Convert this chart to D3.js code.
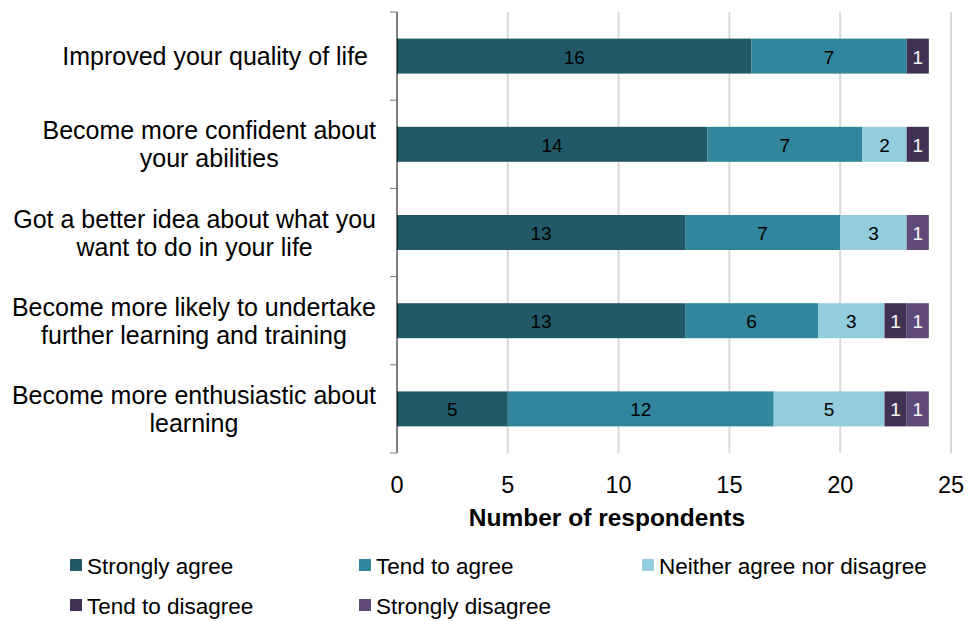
<!DOCTYPE html>
<html>
<head>
<meta charset="utf-8">
<script src="https://cdn.jsdelivr.net/npm/d3@7"></script>
<style>
  body { margin: 0; background: #fff; }
  svg text { font-family: "Liberation Sans", Arial, sans-serif; }
</style>
</head>
<body>
<svg id="chart" width="968" height="621"></svg>
<script>
// Survey statements (two-line labels split with "|")
const categories = [
  "Improved your quality of life",
  "Become more confident about|your abilities",
  "Got a better idea about what you|want to do in your life",
  "Become more likely to undertake|further learning and training",
  "Become more enthusiastic about|learning"
];
const seriesNames = ["Strongly agree", "Tend to agree", "Neither agree nor disagree", "Tend to disagree", "Strongly disagree"];
const stronglyAgree = [16, 14, 13, 13, 5];
const tendToAgree = [7, 7, 7, 6, 12];
const neither = [0, 2, 3, 3, 5];
const tendToDisagree = [1, 1, 0, 1, 1];
const stronglyDisagree = [0, 0, 1, 1, 1];
const xTicks = [0, 5, 10, 15, 20, 25];
const colors = ["#215968", "#31859c", "#93cddd", "#403152", "#604a7b"];
const labelColors = ["#000", "#000", "#000", "#fff", "#fff"];

const seriesValues = [stronglyAgree, tendToAgree, neither, tendToDisagree, stronglyDisagree];

const svg = d3.select("#chart");
const plotLeft = 397, plotRight = 951, plotTop = 12, plotBottom = 453;

const x = d3.scaleLinear().domain([0, 25]).range([plotLeft, plotRight]);
const y = d3.scaleBand().domain(d3.range(categories.length)).range([plotTop, plotBottom]).paddingInner(0).paddingOuter(0);
const barH = 35;

// vertical gridlines
svg.append("g").selectAll("line").data(xTicks.slice(1)).join("line")
  .attr("x1", d => x(d)).attr("x2", d => x(d))
  .attr("y1", plotTop).attr("y2", plotBottom)
  .attr("stroke", "#d9d9d9").attr("stroke-width", 2);

// stacked bars
const rows = categories.map((c, i) => {
  let acc = 0;
  return seriesValues.map((s, k) => {
    const seg = { row: i, k, v: s[i], x0: acc, x1: acc + s[i] };
    acc += s[i];
    return seg;
  });
});
const segs = rows.flat().filter(d => d.v > 0);

const bars = svg.append("g");
bars.selectAll("rect").data(segs).join("rect")
  .attr("x", d => x(d.x0))
  .attr("width", d => x(d.x1) - x(d.x0))
  .attr("y", d => y(d.row) + y.bandwidth() / 2 - barH / 2)
  .attr("height", barH)
  .attr("fill", d => colors[d.k]);

bars.selectAll("text").data(segs).join("text")
  .attr("x", d => (x(d.x0) + x(d.x1)) / 2)
  .attr("y", d => y(d.row) + y.bandwidth() / 2 + 7.5)
  .attr("text-anchor", "middle")
  .attr("font-size", 19)
  .attr("fill", d => labelColors[d.k])
  .text(d => d.v);

// category axis line and ticks
svg.append("line").attr("x1", plotLeft).attr("x2", plotLeft).attr("y1", plotTop).attr("y2", plotBottom)
  .attr("stroke", "#000").attr("stroke-width", 1);
svg.append("g").selectAll("line").data(d3.range(categories.length + 1)).join("line")
  .attr("x1", plotLeft - 7).attr("x2", plotLeft)
  .attr("y1", d => plotTop + d * y.step()).attr("y2", d => plotTop + d * y.step())
  .attr("stroke", "#777").attr("stroke-width", 1);

// x tick labels
svg.append("g").selectAll("text").data(xTicks).join("text")
  .attr("x", d => x(d)).attr("y", 493)
  .attr("text-anchor", "middle").attr("font-size", 23.5).attr("fill", "#000")
  .text(d => d);

svg.append("text").attr("x", 607).attr("y", 526)
  .attr("text-anchor", "middle").attr("font-size", 24.5).attr("font-weight", "bold")
  .text("Number of respondents");

// category labels: lines centred within a block that ends near the axis
categories.forEach((c, i) => {
  const lines = c.split("|");
  const labelRight = lines.length > 1 ? 376 : 368;
  const g = svg.append("g");
  const cy = y(i) + y.bandwidth() / 2;
  const lh = 28;
  const texts = lines.map((ln, j) => g.append("text")
    .attr("y", cy + 9 + (j - (lines.length - 1) / 2) * lh)
    .attr("text-anchor", "middle").attr("font-size", 25).attr("fill", "#000")
    .text(ln));
  const w = d3.max(texts, t => t.node().getComputedTextLength());
  texts.forEach(t => t.attr("x", labelRight - w / 2));
});

// legend
const legendPos = [[70, 574], [359, 574], [642, 574], [70, 614], [359, 614]];
const lg = svg.append("g");
seriesNames.forEach((n, k) => {
  const [lx, ly] = legendPos[k];
  lg.append("rect").attr("x", lx).attr("y", ly - 15).attr("width", 12).attr("height", 12).attr("fill", colors[k]);
  lg.append("text").attr("x", lx + 17).attr("y", ly).attr("font-size", 22.5).attr("fill", "#000").text(n);
});
</script>
</body>
</html>
